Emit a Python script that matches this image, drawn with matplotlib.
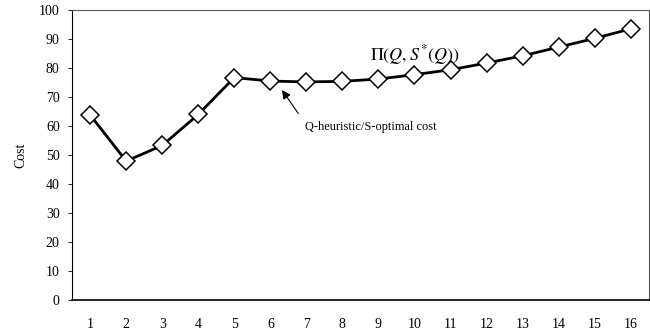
import numpy as np
import matplotlib
matplotlib.use('Agg')
import matplotlib.pyplot as plt

# Valores
q_valores = list(range(1, 17))
custos = [63.8, 47.9, 53.3, 64.0, 76.7, 75.5, 75.2, 75.4, 76.2, 77.7, 79.4, 81.7, 84.2, 87.2, 90.2, 93.5]
y_ticks = [0, 10, 20, 30, 40, 50, 60, 70, 80, 90, 100]

plt.rcParams['font.family'] = 'Liberation Serif'
plt.rcParams['mathtext.fontset'] = 'stix'

fig = plt.figure(figsize=(6.5, 3.33), dpi=100)
ax = fig.add_axes([0.111, 0.099, 0.887, 0.871])

ax.plot(q_valores, custos, '-', color='black', linewidth=2,
        marker='D', markersize=9, markerfacecolor='white', markeredgecolor='black',
        markeredgewidth=1.1, zorder=3)

ax.set_xlim(0.5, 16.5)
ax.set_ylim(0, 100)
ax.set_xticks(q_valores)
ax.set_yticks(y_ticks)
ax.tick_params(axis='x', length=0, pad=13, labelsize=10)
ax.tick_params(axis='y', length=3, width=0.6, pad=6, labelsize=10)
ax.set_ylabel('Cost', fontsize=10, labelpad=8)

# Bordas: esquerda/inferior sólidas, superior/direita pontilhadas
ax.spines['left'].set_linewidth(0.8)
ax.spines['bottom'].set_linewidth(1.2)
for lado in ['top', 'right']:
    ax.spines[lado].set_linestyle((0, (1, 1)))
    ax.spines[lado].set_linewidth(0.8)
    ax.spines[lado].set_color('#555555')

# Rótulo da curva e anotação
ax.text(10.0, 84.5, r'$\Pi(Q,S^{*}(Q))$', fontsize=13, ha='center', va='center')
ax.annotate('', xy=(6.28, 73.2), xytext=(6.82, 63.5),
            arrowprops=dict(arrowstyle='-|>', color='black', lw=0.8, mutation_scale=13))
ax.text(6.95, 59.6, 'Q-heuristic/S-optimal cost', fontsize=8.9, ha='left', va='center')

fig.savefig('out.png', dpi=100)
